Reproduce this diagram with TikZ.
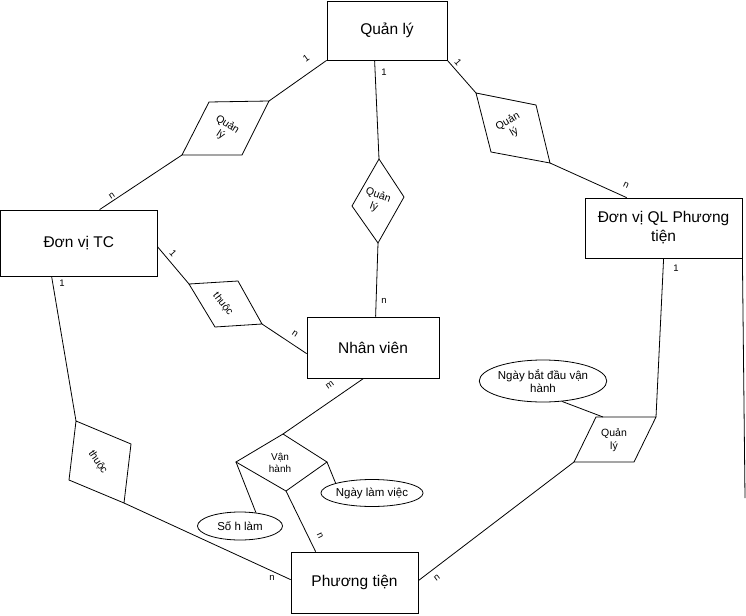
\documentclass[tikz,border=0pt]{standalone}
\usepackage{fontspec}
\setmainfont{Liberation Sans}
\usetikzlibrary{calc,shapes.geometric}
\begin{document}
\begin{tikzpicture}[x=1pt,y=-1pt, line width=0.8pt, line join=miter,
 entity/.style={draw, rectangle, inner sep=0pt, font=\fontsize{15.5}{19}\selectfont, align=center},
 reltext/.style={font=\fontsize{10.5}{12.5}\selectfont, align=center, inner sep=0pt},
 attr/.style={draw, ellipse, inner sep=0pt, font=\fontsize{11.5}{13.5}\selectfont, align=center},
 card/.style={font=\fontsize{9.5}{11}\selectfont, inner sep=0pt}]
\useasboundingbox (0,0) rectangle (746,615);

% entities
\node[entity, minimum width=120pt, minimum height=59pt] (QL) at (387,30.5) {Quản lý};
\node[entity, minimum width=156.5pt, minimum height=66pt] (DVTC) at (78.75,243) {Đơn vị TC};
\node[entity, minimum width=132pt, minimum height=61pt] (NV) at (373,347.5) {Nhân viên};
\node[entity, minimum width=157pt, minimum height=60pt] (DVQL) at (663.5,228) {Đơn vị QL Phương\\tiện};
\node[entity, minimum width=127pt, minimum height=61pt] (PT) at (354.5,582.5) {Phương tiện};

% relationship: left Quan ly
\coordinate (r1a) at (209,102); \coordinate (r1b) at (269,101);
\coordinate (r1c) at (242,155); \coordinate (r1d) at (182,155);
\draw (r1a)--(r1b)--(r1c)--(r1d)--cycle;
\node[reltext, rotate=-33] (r1t) at (224,130) {Quản\\lý};

% relationship: middle Quan ly
\coordinate (r2a) at (379,159); \coordinate (r2b) at (404,197);
\coordinate (r2c) at (378,243); \coordinate (r2d) at (352,206);
\draw (r2a)--(r2b)--(r2c)--(r2d)--cycle;
\node[reltext, rotate=-20] (r2t) at (376,201) {Quản\\lý};

% relationship: right Quan ly
\coordinate (r3a) at (476,93); \coordinate (r3b) at (536,105);
\coordinate (r3c) at (550,163); \coordinate (r3d) at (491,152);
\draw (r3a)--(r3b)--(r3c)--(r3d)--cycle;
\node[reltext, rotate=30] (r3t) at (511,127) {Quản\\lý};

% relationship: upper thuoc
\coordinate (t1a) at (189,284); \coordinate (t1b) at (238,281);
\coordinate (t1c) at (262,324); \coordinate (t1d) at (215,327);
\draw (t1a)--(t1b)--(t1c)--(t1d)--cycle;
\node[reltext, rotate=-52] (t1t) at (223,304) {thuộc};

% relationship: left thuoc
\coordinate (t2a) at (76,421); \coordinate (t2b) at (131,444);
\coordinate (t2c) at (124,503); \coordinate (t2d) at (69,480);
\draw (t2a)--(t2b)--(t2c)--(t2d)--cycle;
\node[reltext, rotate=-56] (t2t) at (98,462) {thuộc};

% relationship: Van hanh
\coordinate (vht) at (283,434); \coordinate (vhr) at (327,462);
\coordinate (vhb) at (286,491); \coordinate (vhl) at (236,462);
\draw (vht)--(vhr)--(vhb)--(vhl)--cycle;
\node[reltext, font=\fontsize{10}{12.5}\selectfont] (vhtx) at (280,463) {Vận\\hành};

% relationship: bottom-right Quan ly
\coordinate (q4a) at (596,417); \coordinate (q4b) at (656,417);
\coordinate (q4c) at (634,462); \coordinate (q4d) at (574,462);
\draw (q4a)--(q4b)--(q4c)--(q4d)--cycle;
\node[reltext] (q4t) at (614,440) {Quản\\lý};

% attributes
\node[attr, minimum width=96pt, minimum height=42pt] (NBD) at (543,381) {Ngày bắt đầu vận\\hành};
\node[attr, minimum width=85pt, minimum height=27pt] (NLV) at (372,493) {Ngày làm việc};
\node[attr, minimum width=85pt, minimum height=28pt] (SHL) at (240,526) {Số h làm};

% connectors
\draw (QL.south west) -- (r1b);
\draw (r1d) -- ($(DVTC.north west)+(99.5,0)$);
\draw ($(QL.south west)+(48,0)$) -- (r2a);
\draw (r2c) -- ($(NV.north west)+(69,0)$);
\draw (QL.south east) -- (r3a);
\draw (r3c) -- ($(DVQL.north west)+(42,0)$);
\draw ($(DVTC.north east)+(0,37)$) -- (t1a);
\draw (t1c) -- ($(NV.north west)+(0,37)$);
\draw ($(NV.south west)+(57,0)$) -- (vht);
\draw (vhb) -- ($(PT.north west)+(25,0)$);
\draw (vhr) -- (NLV.north west);
\draw (vhl) -- (SHL.40);
\draw ($(DVTC.south west)+(51.5,0)$) -- (t2a);
\draw (t2c) -- ($(PT.north west)+(0,28)$);
\draw ($(DVQL.south west)+(79,0)$) -- (q4b);
\draw (NBD.-47) -- ($(q4a)+(7,0)$);
\draw (q4d) -- ($(PT.north east)+(0,29)$);
\coordinate (rend) at (745,498);
\draw (DVQL.south east) -- (rend);

% cardinalities
\node[card, rotate=36] (c1) at (306,58) {1};
\node[card, rotate=34] (c2) at (112,196) {n};
\node[card] (c3) at (384,72) {1};
\node[card] (c4) at (384,301) {n};
\node[card, rotate=-49] (c5) at (458,62) {1};
\node[card, rotate=-24] (c6) at (626,185) {n};
\node[card, rotate=-48] (c7) at (173,253) {1};
\node[card, rotate=-34] (c8) at (295,334) {n};
\node[card, rotate=35] (c9) at (330,385) {m};
\node[card, rotate=-64] (c10) at (320,536) {n};
\node[card] (c11) at (62,283) {1};
\node[card] (c12) at (272,578) {n};
\node[card] (c13) at (676,268) {1};
\node[card, rotate=37] (c14) at (437,578) {n};
\end{tikzpicture}
\end{document}
